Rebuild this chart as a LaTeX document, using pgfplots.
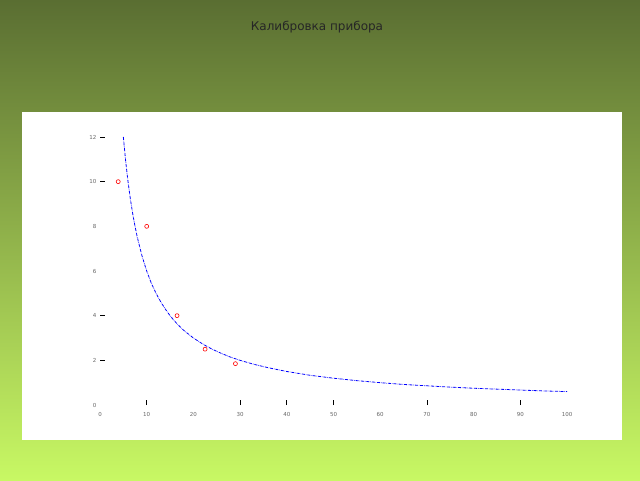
\documentclass[border=0pt]{standalone}
\usepackage{fontspec}
\setmainfont{DejaVu Sans}
\usepackage{pgfplots}
\pgfplotsset{compat=1.18}
\definecolor{bgtop}{HTML}{5A6E32}
\definecolor{bgbot}{HTML}{C8F864}
\begin{document}
\begin{tikzpicture}[x=1pt,y=1pt]
\shade[top color=bgtop, bottom color=bgbot] (0,0) rectangle (640,480);
\fill[white] (22,40) rectangle (622,368);
\node[font=\fontsize{12}{14}\selectfont, text=black!85] at (317,453) {Калибровка прибора};
\begin{axis}[
  at={(100pt,75pt)}, anchor=south west,
  scale only axis, width=467pt, height=268pt,
  xmin=0, xmax=100, ymin=0, ymax=12,
  axis line style={draw=none},
  xtick={0,10,...,100}, ytick={0,2,...,12},
  tick align=inside,
  major tick length=0pt,
  xtick pos=bottom, ytick pos=left,
  ticklabel style={font=\fontsize{5.5}{6}\selectfont, text=black!60},
  xticklabel style={yshift=-4pt},
  extra x ticks={10,30,40,50,70,90}, extra x tick labels={},
  extra y ticks={2,4,10,12}, extra y tick labels={},
  extra tick style={major tick length=5pt, tick style={black, line width=0.8pt}},
  /pgf/number format/assume math mode=true,
  clip=false,
]
\addplot[blue, densely dashdotted, line width=0.8pt] coordinates {
(5,12) (5.5,10.91) (6,10) (6.5,9.23) (7,8.57) (7.5,8) (8,7.5) (9,6.67) (10,6)
(11,5.45) (12,5) (13,4.62) (14,4.29) (15,4) (16,3.75) (17,3.53) (18,3.33) (20,3)
(22,2.73) (24,2.5) (26,2.31) (28,2.14) (30,2) (33,1.82) (36,1.67) (40,1.5)
(45,1.33) (50,1.2) (55,1.09) (60,1) (65,0.92) (70,0.86) (75,0.8) (80,0.75)
(85,0.71) (90,0.67) (95,0.63) (100,0.6)
};
\addplot[only marks, mark=o, mark size=2pt, red, line width=0.6pt] coordinates {
(3.9,10) (10,8) (16.5,4) (22.5,2.5) (29,1.85)
};
\end{axis}
\end{tikzpicture}
\end{document}
